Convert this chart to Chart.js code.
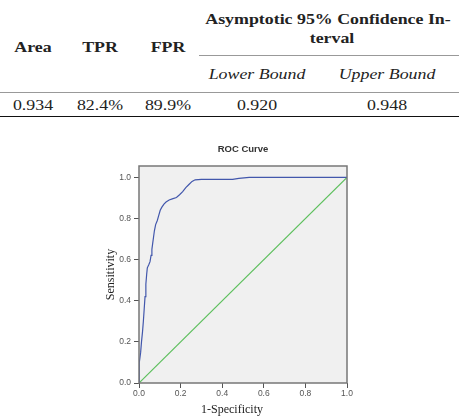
<!DOCTYPE html>
<html>
<head>
<meta charset="utf-8">
<script src="https://cdn.jsdelivr.net/npm/chart.js@4"></script>
<style>
  body { margin: 0; width: 463px; height: 418px; background: #fff; position: relative; overflow: hidden; }
  .cell { position: absolute; font-family: "Liberation Serif", "Times New Roman", serif; font-size: 15px; color: #222;
          white-space: nowrap; transform: translate(-50%, -50%) scaleX(1.19); line-height: 1; }
  .bold { font-weight: bold; }
  .ital { font-style: italic; }
  .rule { position: absolute; height: 0; }
  #roc { position: absolute; left: 0; top: 120px; }
</style>
</head>
<body>
<div id="table"></div>
<canvas id="roc" width="463" height="298"></canvas>
<script>
// table
const headers = ['Area', 'TPR', 'FPR'];
const ciTitle = ['Asymptotic 95% Confidence In-', 'terval'];
const ciHeaders = ['Lower Bound', 'Upper Bound'];
const rowValues = ['0.934', '82.4%', '89.9%', '0.920', '0.948'];

// roc curve (1-specificity, sensitivity)
const fprValues = [0, 0, 0.003, 0.008, 0.012, 0.017, 0.021, 0.025, 0.029, 0.033, 0.037, 0.040, 0.047, 0.053,
    0.058, 0.062, 0.066, 0.070, 0.074, 0.080, 0.088, 0.095, 0.102, 0.110, 0.120, 0.130, 0.145, 0.160,
    0.180, 0.195, 0.210, 0.225, 0.240, 0.255, 0.270, 0.300, 0.450, 0.480, 0.530, 1.0];
const tprValues = [0, 0.05, 0.10, 0.15, 0.20, 0.25, 0.30, 0.36, 0.42, 0.48, 0.53, 0.56, 0.575, 0.59,
    0.62, 0.65, 0.68, 0.71, 0.74, 0.77, 0.79, 0.815, 0.84, 0.855, 0.87, 0.88, 0.89, 0.895,
    0.902, 0.915, 0.93, 0.95, 0.965, 0.98, 0.988, 0.99, 0.99, 0.995, 1.0, 1.0];
const refLine = [0, 1];
const axisTicks = [0, 0.2, 0.4, 0.6, 0.8, 1.0];

const tbl = document.getElementById('table');
function addText(txt, x, y, cls) {
    const d = document.createElement('div');
    d.className = 'cell ' + (cls || '');
    d.style.left = x + 'px';
    d.style.top = y + 'px';
    d.textContent = txt;
    tbl.appendChild(d);
}
function addRule(x1, x2, y, w, color) {
    const d = document.createElement('div');
    d.className = 'rule';
    d.style.left = x1 + 'px';
    d.style.width = (x2 - x1) + 'px';
    d.style.top = y + 'px';
    d.style.borderTop = w + 'px solid ' + color;
    tbl.appendChild(d);
}
const colX = [33, 100, 168, 257, 387];
headers.forEach((h, i) => addText(h, colX[i], 47, 'bold'));
addText(ciTitle[0], 328, 19, 'bold');
addText(ciTitle[1], 332, 38, 'bold');
ciHeaders.forEach((h, i) => addText(h, colX[3 + i], 74, 'ital'));
rowValues.forEach((v, i) => addText(v, colX[i], 105));
addRule(199, 459, 55, 1, '#999');
addRule(0, 459, 92, 1, '#999');
addRule(0, 459, 116, 1.5, '#111');

const serifFont = '"Liberation Serif", "Times New Roman", serif';

// plot background, frame and the x axis title (sits a bit left of centre in the original)
const plotFrame = {
    id: 'plotFrame',
    beforeDraw(chart) {
        const a = chart.chartArea, ctx = chart.ctx;
        ctx.save();
        ctx.fillStyle = '#f0f0f0';
        ctx.fillRect(a.left, a.top, a.right - a.left, a.bottom - a.top);
        ctx.restore();
    },
    afterDraw(chart) {
        const a = chart.chartArea, ctx = chart.ctx;
        ctx.save();
        ctx.strokeStyle = '#777';
        ctx.lineWidth = 1.5;
        ctx.strokeRect(a.left, a.top, a.right - a.left, a.bottom - a.top);
        ctx.fillStyle = '#222';
        ctx.font = '12px ' + serifFont;
        ctx.textAlign = 'center';
        ctx.textBaseline = 'middle';
        ctx.fillText('1-Specificity', (a.left + a.right) / 2 - 11, a.bottom + 27);
        ctx.restore();
    }
};

const tickFont = { family: 'Arial, "Liberation Sans", sans-serif', size: 8.5 };

new Chart(document.getElementById('roc'), {
    type: 'line',
    data: {
        datasets: [{
            data: fprValues.map((x, i) => ({ x: x, y: tprValues[i] })),
            borderColor: '#4257ac',
            borderWidth: 1.2,
            pointRadius: 0,
            tension: 0
        }, {
            data: refLine.map(v => ({ x: v, y: v })),
            borderColor: '#5cbf5c',
            borderWidth: 1.2,
            pointRadius: 0
        }]
    },
    options: {
        responsive: false,
        animation: false,
        layout: { padding: { left: 100, right: 116, top: 23.3, bottom: 1 } },
        plugins: {
            legend: { display: false },
            tooltip: { enabled: false },
            title: {
                display: true,
                text: 'ROC Curve',
                fullSize: false,
                color: '#333',
                font: { family: 'Arial, "Liberation Sans", sans-serif', size: 9.5, weight: 'bold' },
                padding: { top: 0, bottom: 11.3 }
            }
        },
        scales: {
            x: {
                type: 'linear',
                min: 0,
                max: 1,
                afterFit: s => { s.height = 34; },
                afterBuildTicks: s => { s.ticks = axisTicks.map(v => ({ value: v })); },
                border: { display: false },
                grid: { drawOnChartArea: false, tickLength: 5, color: '#555' },
                ticks: { font: tickFont, color: '#555', padding: 1, maxRotation: 0, callback: v => v.toFixed(1) }
            },
            y: {
                min: 0,
                max: 1.055,
                afterFit: s => { s.width = 39; },
                afterBuildTicks: s => { s.ticks = axisTicks.map(v => ({ value: v })); },
                border: { display: false },
                grid: { drawOnChartArea: false, tickLength: 5, color: '#555' },
                ticks: { font: tickFont, color: '#555', padding: 3, callback: v => v.toFixed(1) },
                title: { display: true, text: 'Sensitivity', color: '#222', font: { family: serifFont, size: 12 }, padding: { top: 4, bottom: 0 } }
            }
        }
    },
    plugins: [plotFrame]
});
</script>
</body>
</html>
